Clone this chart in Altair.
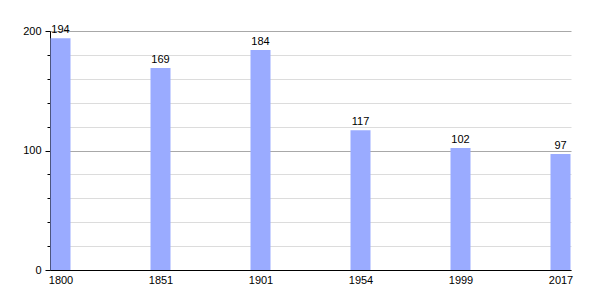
import altair as alt
import pandas as pd

years = ["1800", "1851", "1901", "1954", "1999", "2017"]
population = [194, 169, 184, 117, 102, 97]

df = pd.DataFrame({"year": years, "pop": population})

x = alt.X("year:N", sort=None,
          scale=alt.Scale(type="point", padding=0.105),
          axis=alt.Axis(title=None, labelAngle=0, ticks=False, domainColor="#000",
                        labelFont="Liberation Sans", labelFontSize=11, labelColor="#000",
                        labelPadding=4, grid=False))
y = alt.Y("pop:Q",
          scale=alt.Scale(domain=[0, 200], nice=False),
          axis=alt.Axis(title=None, values=list(range(0, 201, 20)),
                        labelExpr="datum.value % 100 == 0 ? datum.label : ''",
                        labelOverlap=False,
                        labelFont="Liberation Sans", labelFontSize=11, labelColor="#000",
                        labelPadding=4,
                        domainColor="#000", tickColor="#000",
                        tickSize={"condition": {"test": "datum.value % 100 == 0", "value": 5}, "value": 3},
                        gridColor={"condition": {"test": "datum.value % 100 == 0", "value": "#a8a8a8"}, "value": "#dcdcdc"},
                        gridWidth=1))

bars = alt.Chart(df).mark_bar(size=20, color="#9aabff").encode(x=x, y=y)
labels = alt.Chart(df).mark_text(baseline="bottom", dy=-3, font="Liberation Sans",
                                 fontSize=11, color="#000").encode(
    x=x, y=y, text="pop:Q")

chart = (bars + labels).properties(
    width=521, height=239,
    autosize=alt.AutoSizeParams(type="none"),
    padding={"left": 50, "top": 31, "right": 29, "bottom": 30},
).configure_view(stroke=None)

chart.save("out.html", embed_options={"renderer": "svg", "actions": False})
